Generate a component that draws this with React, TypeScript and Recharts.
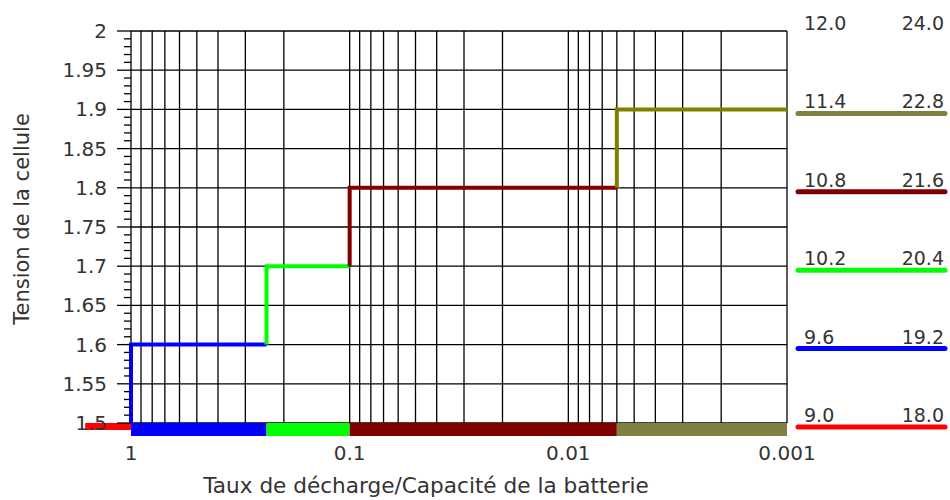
import React from 'react';
import { ComposedChart, Line, XAxis, YAxis, CartesianGrid, ReferenceArea } from 'recharts';

const FONT = '"DejaVu Sans", sans-serif';
const TEXT = '#333';

// band edges along the (reversed, log) rate axis; the first one sits left of 1
const rateBreaks = [1.62, 1, 0.24, 0.1, 0.006, 0.001];
// cell voltage reached in each band
const cellVolts = [1.5, 1.6, 1.7, 1.8, 1.9];
const stepColors = ['#ff0000', '#0000ff', '#00ff00', '#800000', '#808000'];
const bandColors = ['#ff0000', '#0000ff', '#00ff00', '#800000', '#808040'];

// battery voltages on the right (6 cells / 12 cells)
const packLevels = [2.0, 1.9, 1.8, 1.7, 1.6, 1.5];
const pack6 = ['12.0', '11.4', '10.8', '10.2', '9.6', '9.0'];
const pack12 = ['24.0', '22.8', '21.6', '20.4', '19.2', '18.0'];
const packColors = ['', '#808040', '#800000', '#00ff00', '#0000ff', '#ff0000'];

const yMajor = [1.5, 1.55, 1.6, 1.65, 1.7, 1.75, 1.8, 1.85, 1.9, 1.95, 2];
const yMinor = Array.from({ length: 51 }, (_, i) => +(1.5 + i * 0.01).toFixed(2));
const decades = [1, 0.1, 0.01, 0.001];
const mantissas = [1, 0.9, 0.8, 0.7, 0.6, 0.5, 0.4, 0.3, 0.2];
const xGrid = [...decades.slice(0, 3).flatMap(d => mantissas.map(m => +(d * m).toPrecision(3))), 0.001];

// each colored step: rise at its left edge, then run to the next edge
const steps = cellVolts.slice(1).map((v, i) => ({
  color: stepColors[i + 1],
  data: [
    { x: rateBreaks[i + 1], y: cellVolts[i] },
    { x: rateBreaks[i + 1], y: v },
    { x: rateBreaks[i + 2], y: v },
  ],
}));

const LeftTick = (props: any) => {
  const { x, y, payload } = props;
  const major = yMajor.some(m => Math.abs(m - payload.value) < 1e-6);
  return (
    <g>
      <line x1={x - (major ? 14 : 7)} x2={x} y1={y} y2={y} stroke="#000" strokeWidth={1.3} />
      {major && (
        <text x={x - 24} y={y} dy={7} textAnchor="end" fill={TEXT} fontSize={20} fontFamily={FONT}>
          {String(payload.value)}
        </text>
      )}
    </g>
  );
};

const BottomTick = (props: any) => {
  const { x, y, payload } = props;
  if (!decades.includes(payload.value)) return <g />;
  return (
    <text x={x} y={y + 37} textAnchor="middle" fill={TEXT} fontSize={20} fontFamily={FONT}>
      {String(payload.value)}
    </text>
  );
};

const RightTick = (props: any) => {
  const { x, y, payload } = props;
  const i = packLevels.findIndex(v => Math.abs(v - payload.value) < 1e-6);
  if (i < 0) return <g />;
  return (
    <g>
      {packColors[i] && (
        <line x1={x + 11} x2={x + 158} y1={y + 4} y2={y + 4} stroke={packColors[i]} strokeWidth={5} strokeLinecap="round" />
      )}
      <text x={x + 17} y={y - 1} textAnchor="start" fill={TEXT} fontSize={19} fontFamily={FONT}>{pack6[i]}</text>
      <text x={x + 157} y={y - 1} textAnchor="end" fill={TEXT} fontSize={19} fontFamily={FONT}>{pack12[i]}</text>
    </g>
  );
};

// horizontal grid only at the labelled 0.05 steps
const HLine = (props: any) => {
  const { x1, x2, y1, y2, index } = props;
  if (index % 5 !== 0) return <g key={props.key} />;
  return <line key={props.key} x1={x1} x2={x2} y1={y1} y2={y2} stroke="#000" strokeWidth={1.3} />;
};

export default function App() {
  return (
    <div style={{ position: 'absolute', left: 0, top: 0, width: 950, height: 500, background: '#fff' }}>
      <ComposedChart width={950} height={500} margin={{ top: 31, right: 0, bottom: 0, left: 0 }}>
        <CartesianGrid yAxisId="left" stroke="#000" strokeWidth={1.3} horizontal={HLine} />
        <XAxis
          type="number"
          dataKey="x"
          scale="log"
          domain={[0.001, 1]}
          reversed
          ticks={xGrid}
          interval={0}
          height={77}
          tickSize={0}
          tickMargin={0}
          axisLine={false}
          tickLine={false}
          tick={BottomTick}
          label={{
            content: (p: any) => {
              const vb = p.viewBox || { x: 131, y: 423, width: 656 };
              return (
                <text x={vb.x + vb.width / 2 - 33} y={vb.y + 70} textAnchor="middle" fill={TEXT} fontSize={21.6} fontFamily={FONT}>
                  Taux de décharge/Capacité de la batterie
                </text>
              );
            },
          }}
        />
        <YAxis
          yAxisId="left"
          type="number"
          domain={[1.5, 2]}
          ticks={yMinor}
          interval={0}
          width={131}
          tickSize={0}
          tickMargin={0}
          axisLine={false}
          tickLine={false}
          tick={LeftTick}
          label={{
            content: (p: any) => {
              const vb = p.viewBox || { x: 0, y: 31, height: 392 };
              const cy = vb.y + vb.height / 2 - 8;
              return (
                <text x={29} y={cy} transform={`rotate(-90 29 ${cy})`} textAnchor="middle" fill={TEXT} fontSize={21} fontFamily={FONT}>
                  Tension de la cellule
                </text>
              );
            },
          }}
        />
        <YAxis
          yAxisId="right"
          orientation="right"
          type="number"
          domain={[1.5, 2]}
          ticks={packLevels}
          interval={0}
          width={163}
          tickSize={0}
          tickMargin={0}
          axisLine={false}
          tickLine={false}
          tick={RightTick}
        />
        {bandColors.map((c, i) => (
          <ReferenceArea
            key={`band-${i}`}
            yAxisId="left"
            x1={rateBreaks[i]}
            x2={rateBreaks[i + 1]}
            y1={i === 0 ? 1.491 : 1.4835}
            y2={1.5}
            fill={c}
            fillOpacity={1}
            stroke="none"
            ifOverflow="visible"
          />
        ))}
        {steps.map((s, i) => (
          <Line
            key={`step-${i}`}
            yAxisId={i < 2 ? 'left' : 'right'}
            data={s.data}
            dataKey="y"
            type="linear"
            stroke={s.color}
            strokeWidth={4}
            dot={false}
            activeDot={false}
            isAnimationActive={false}
          />
        ))}
      </ComposedChart>
    </div>
  );
}
